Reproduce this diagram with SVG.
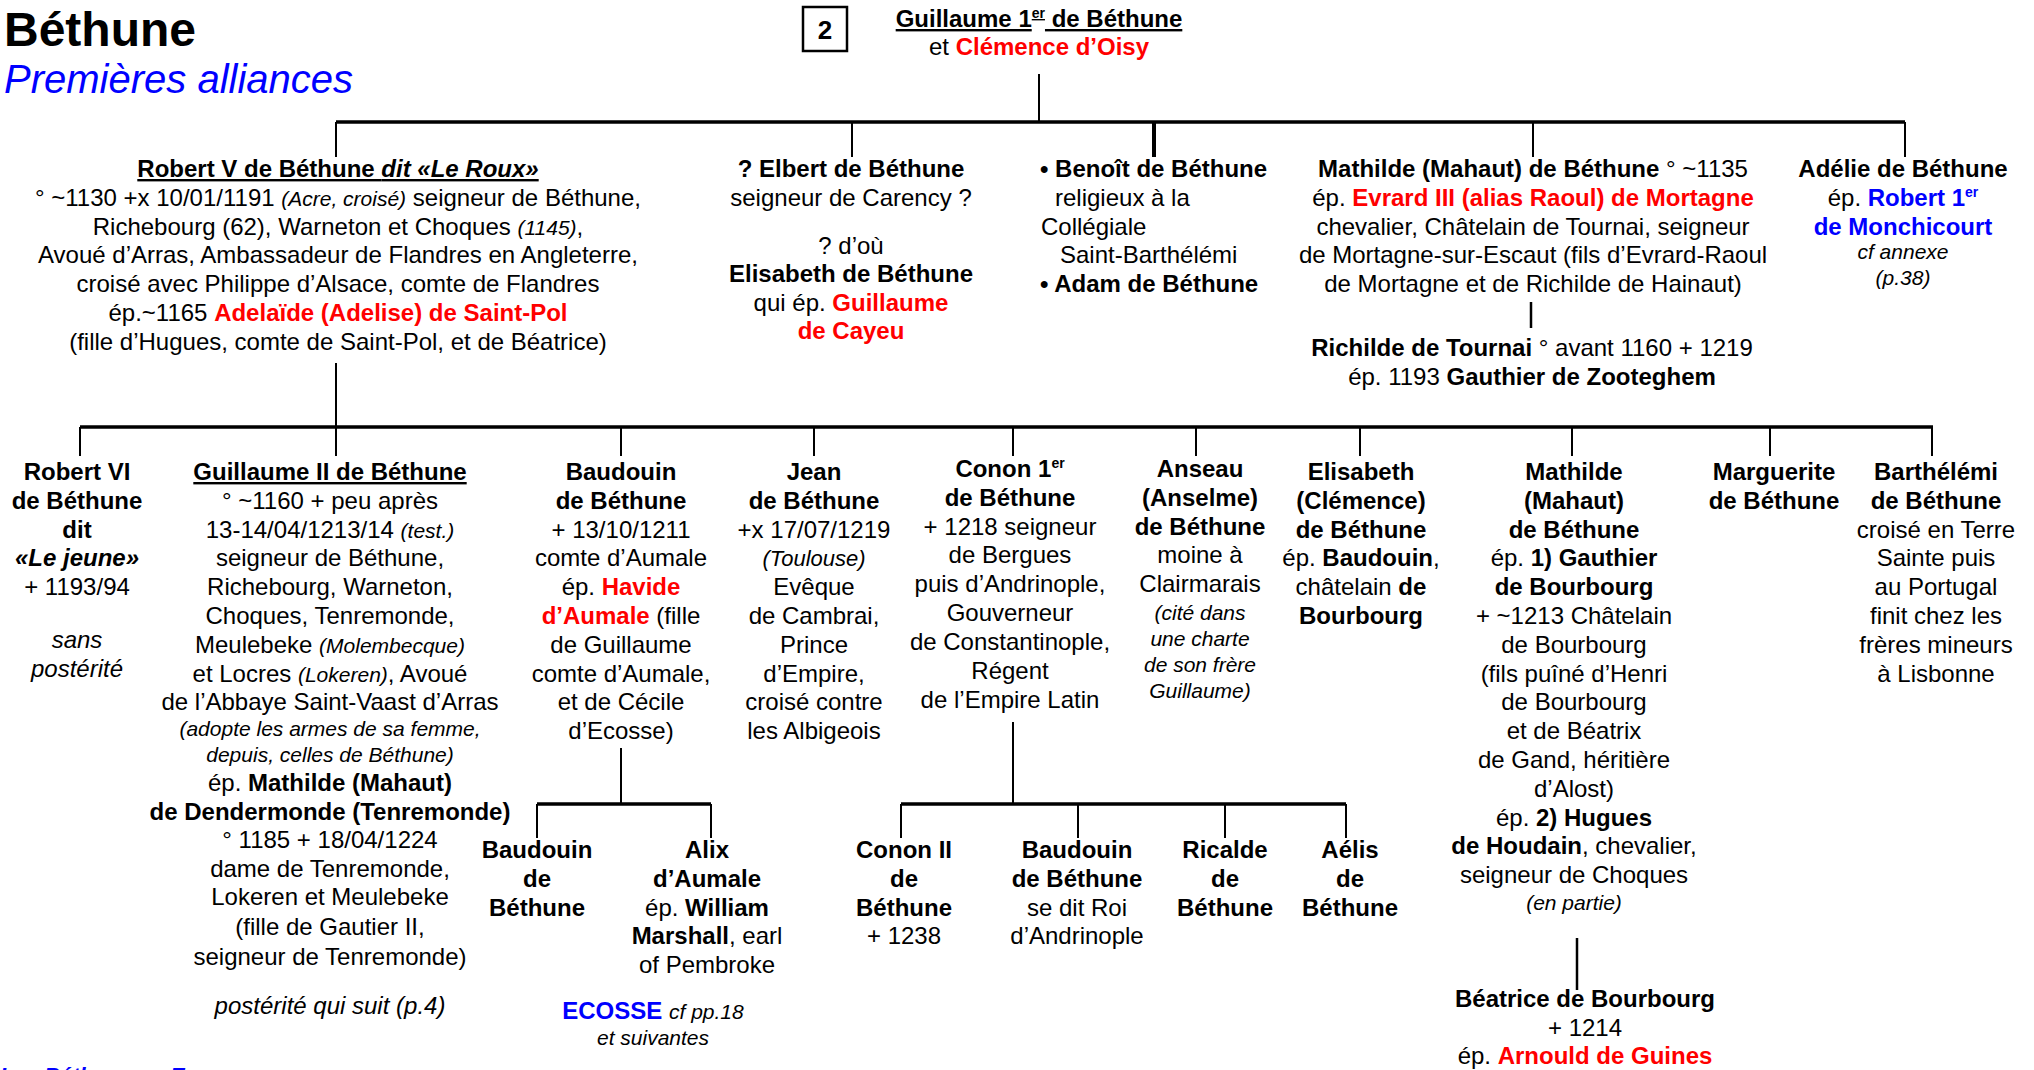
<svg xmlns="http://www.w3.org/2000/svg" width="2034" height="1070" viewBox="0 0 2034 1070">
<style>
text{font-family:"Liberation Sans",Arial,sans-serif;font-size:24px;fill:#000}
.c{text-anchor:middle}
.b{font-weight:bold}
.i{font-style:italic}
.r{fill:#FF0000}
.bl{fill:#0000FF}
.s{font-size:21px}
.u{text-decoration:underline}
.sup{font-size:14px}
line{stroke:#000;stroke-width:2}
line.bar{stroke-width:3.5}
</style>
<rect width="2034" height="1070" fill="#fff"/>
<g id="title">
<text x="4" y="46" class="b" style="font-size:48px">Béthune</text>
<text x="4" y="93" class="i bl" style="font-size:40px">Premières alliances</text>
</g>
<g id="pagebox">
<rect x="803" y="7" width="44" height="44" fill="none" stroke="#000" stroke-width="2.5"/>
<text x="825" y="39" class="c b" style="font-size:26px">2</text>
</g>
<g id="connectors">
<line x1="1039" y1="74" x2="1039" y2="122"/>
<line class="bar" x1="336" y1="122" x2="1905" y2="122"/>
<line x1="336" y1="122" x2="336" y2="157"/>
<line x1="852" y1="122" x2="852" y2="157"/>
<line x1="1154" y1="122" x2="1154" y2="157" style="stroke-width:4"/>
<line x1="1533" y1="122" x2="1533" y2="157"/>
<line x1="1905" y1="122" x2="1905" y2="157"/>
<line x1="1531" y1="302" x2="1531" y2="328" style="stroke-width:2.5"/>
<line x1="336" y1="363" x2="336" y2="427"/>
<line class="bar" x1="80" y1="427" x2="1933" y2="427"/>
<line x1="80" y1="427" x2="80" y2="456"/>
<line x1="336" y1="427" x2="336" y2="456"/>
<line x1="621" y1="427" x2="621" y2="456"/>
<line x1="814" y1="427" x2="814" y2="456"/>
<line x1="1013" y1="427" x2="1013" y2="456"/>
<line x1="1196" y1="427" x2="1196" y2="456"/>
<line x1="1360" y1="427" x2="1360" y2="456"/>
<line x1="1572" y1="427" x2="1572" y2="456"/>
<line x1="1770" y1="427" x2="1770" y2="456"/>
<line x1="1932" y1="427" x2="1932" y2="456"/>
<line x1="621" y1="748" x2="621" y2="804"/>
<line class="bar" x1="537" y1="804" x2="711" y2="804"/>
<line x1="537" y1="804" x2="537" y2="838"/>
<line x1="711" y1="804" x2="711" y2="838"/>
<line x1="1013" y1="722" x2="1013" y2="804"/>
<line class="bar" x1="901" y1="804" x2="1346" y2="804"/>
<line x1="901" y1="804" x2="901" y2="838"/>
<line x1="1078" y1="804" x2="1078" y2="838"/>
<line x1="1225" y1="804" x2="1225" y2="838"/>
<line x1="1346" y1="804" x2="1346" y2="838"/>
<line x1="1577" y1="938" x2="1577" y2="990" style="stroke-width:2.5"/>
</g>
<g id="guillaume1">
<text x="1039" y="27" class="c b u">Guillaume 1<tspan class="sup" dy="-9">er</tspan><tspan dy="9"> de Béthune</tspan></text>
<text x="1039" y="55" class="c">et <tspan class="b r">Clémence d’Oisy</tspan></text>
</g>
<g id="robert5">
<text x="338" y="177" class="c b u">Robert V de Béthune <tspan class="i">dit «Le Roux»</tspan></text>
<text x="338" y="205.8" class="c">° ~1130 +x 10/01/1191 <tspan class="i s">(Acre, croisé)</tspan> seigneur de Béthune,</text>
<text x="338" y="234.6" class="c">Richebourg (62), Warneton et Choques <tspan class="i s">(1145)</tspan>,</text>
<text x="338" y="263.4" class="c">Avoué d’Arras, Ambassadeur de Flandres en Angleterre,</text>
<text x="338" y="292.2" class="c">croisé avec Philippe d’Alsace, comte de Flandres</text>
<text x="338" y="321" class="c">ép.~1165 <tspan class="b r">Adelaïde (Adelise) de Saint-Pol</tspan></text>
<text x="338" y="349.8" class="c">(fille d’Hugues, comte de Saint-Pol, et de Béatrice)</text>
</g>
<g id="elbert">
<text x="851" y="177" class="c b">? Elbert de Béthune</text>
<text x="851" y="205.8" class="c">seigneur de Carency ?</text>
<text x="851" y="253.6" class="c">? d’où</text>
<text x="851" y="282" class="c b">Elisabeth de Béthune</text>
<text x="851" y="310.6" class="c">qui ép. <tspan class="b r">Guillaume</tspan></text>
<text x="851" y="339" class="c b r">de Cayeu</text>
</g>
<g id="benoit">
<text x="1040" y="177" class="b">• Benoît de Béthune</text>
<text x="1055" y="205.8">religieux à la</text>
<text x="1041" y="234.6">Collégiale</text>
<text x="1060" y="263.4">Saint-Barthélémi</text>
<text x="1040" y="292.2" class="b">• Adam de Béthune</text>
</g>
<g id="mathilde1">
<text x="1533" y="177" class="c"><tspan class="b">Mathilde (Mahaut) de Béthune</tspan> ° ~1135</text>
<text x="1533" y="205.8" class="c">ép. <tspan class="b r">Evrard III (alias  Raoul) de Mortagne</tspan></text>
<text x="1533" y="234.6" class="c">chevalier, Châtelain de Tournai, seigneur</text>
<text x="1533" y="263.4" class="c">de Mortagne-sur-Escaut (fils d’Evrard-Raoul</text>
<text x="1533" y="292.2" class="c">de Mortagne et de Richilde de Hainaut)</text>
</g>
<g id="richilde">
<text x="1532" y="356" class="c"><tspan class="b">Richilde de Tournai</tspan> ° avant 1160 + 1219</text>
<text x="1532" y="384.6" class="c">ép. 1193 <tspan class="b">Gauthier de Zooteghem</tspan></text>
</g>
<g id="adelie">
<text x="1903" y="177" class="c b">Adélie de Béthune</text>
<text x="1903" y="205.8" class="c">ép. <tspan class="b bl">Robert 1<tspan class="sup" dy="-9">er</tspan></tspan></text>
<text x="1903" y="234.6" class="c b bl">de Monchicourt</text>
<text x="1903" y="259" class="c i s">cf annexe</text>
<text x="1903" y="285" class="c i s">(p.38)</text>
</g>
<g id="robert6">
<text x="77" y="480" class="c b">Robert VI</text>
<text x="77" y="508.8" class="c b">de Béthune</text>
<text x="77" y="537.6" class="c b">dit</text>
<text x="77" y="566.4" class="c b i">«Le jeune»</text>
<text x="77" y="595.2" class="c">+ 1193/94</text>
<text x="77" y="648" class="c i">sans</text>
<text x="77" y="676.5" class="c i">postérité</text>
</g>
<g id="guillaume2">
<text x="330" y="480" class="c b u">Guillaume II de Béthune</text>
<text x="330" y="508.8" class="c">° ~1160 + peu après</text>
<text x="330" y="537.6" class="c">13-14/04/1213/14 <tspan class="i s">(test.)</tspan></text>
<text x="330" y="566.4" class="c">seigneur de Béthune,</text>
<text x="330" y="595.2" class="c">Richebourg, Warneton,</text>
<text x="330" y="624" class="c">Choques, Tenremonde,</text>
<text x="330" y="652.8" class="c">Meulebeke <tspan class="i s">(Molembecque)</tspan></text>
<text x="330" y="681.6" class="c">et Locres <tspan class="i s">(Lokeren)</tspan>, Avoué</text>
<text x="330" y="710.4" class="c">de l’Abbaye Saint-Vaast d’Arras</text>
<text x="330" y="736" class="c i s">(adopte les armes de sa femme,</text>
<text x="330" y="762" class="c i s">depuis, celles de Béthune)</text>
<text x="330" y="791" class="c">ép. <tspan class="b">Mathilde (Mahaut)</tspan></text>
<text x="330" y="819.5" class="c b">de Dendermonde (Tenremonde)</text>
<text x="330" y="848" class="c">° 1185 + 18/04/1224</text>
<text x="330" y="876.5" class="c">dame de Tenremonde,</text>
<text x="330" y="905" class="c">Lokeren et Meulebeke</text>
<text x="330" y="935" class="c">(fille de Gautier II,</text>
<text x="330" y="964.5" class="c">seigneur de Tenremonde)</text>
<text x="330" y="1014" class="c i">postérité qui suit (p.4)</text>
</g>
<g id="baudouin">
<text x="621" y="480" class="c b">Baudouin</text>
<text x="621" y="508.8" class="c b">de Béthune</text>
<text x="621" y="537.6" class="c">+ 13/10/1211</text>
<text x="621" y="566.4" class="c">comte d’Aumale</text>
<text x="621" y="595.2" class="c">ép. <tspan class="b r">Havide</tspan></text>
<text x="621" y="624" class="c"><tspan class="b r">d’Aumale</tspan> (fille</text>
<text x="621" y="652.8" class="c">de Guillaume</text>
<text x="621" y="681.6" class="c">comte d’Aumale,</text>
<text x="621" y="710.4" class="c">et de Cécile</text>
<text x="621" y="739.2" class="c">d’Ecosse)</text>
</g>
<g id="jean">
<text x="814" y="480" class="c b">Jean</text>
<text x="814" y="508.8" class="c b">de Béthune</text>
<text x="814" y="537.6" class="c">+x 17/07/1219</text>
<text x="814" y="566.4" class="c i" style="font-size:22px">(Toulouse)</text>
<text x="814" y="595.2" class="c">Evêque</text>
<text x="814" y="624" class="c">de Cambrai,</text>
<text x="814" y="652.8" class="c">Prince</text>
<text x="814" y="681.6" class="c">d’Empire,</text>
<text x="814" y="710.4" class="c">croisé contre</text>
<text x="814" y="739.2" class="c">les Albigeois</text>
</g>
<g id="conon1">
<text x="1010" y="477" class="c b">Conon 1<tspan class="sup" dy="-9">er</tspan></text>
<text x="1010" y="505.8" class="c b">de Béthune</text>
<text x="1010" y="534.6" class="c">+ 1218 seigneur</text>
<text x="1010" y="563.4" class="c">de Bergues</text>
<text x="1010" y="592.2" class="c">puis d’Andrinople,</text>
<text x="1010" y="621" class="c">Gouverneur</text>
<text x="1010" y="649.8" class="c">de Constantinople,</text>
<text x="1010" y="678.6" class="c">Régent</text>
<text x="1010" y="708" class="c">de l’Empire Latin</text>
</g>
<g id="anseau">
<text x="1200" y="477" class="c b">Anseau</text>
<text x="1200" y="505.8" class="c b">(Anselme)</text>
<text x="1200" y="534.6" class="c b">de Béthune</text>
<text x="1200" y="563.4" class="c">moine à</text>
<text x="1200" y="592.2" class="c">Clairmarais</text>
<text x="1200" y="620" class="c i s">(cité dans</text>
<text x="1200" y="646" class="c i s">une charte</text>
<text x="1200" y="672" class="c i s">de son frère</text>
<text x="1200" y="698" class="c i s">Guillaume)</text>
</g>
<g id="elisabeth">
<text x="1361" y="480" class="c b">Elisabeth</text>
<text x="1361" y="508.8" class="c b">(Clémence)</text>
<text x="1361" y="537.6" class="c b">de Béthune</text>
<text x="1361" y="566.4" class="c">ép. <tspan class="b">Baudouin</tspan>,</text>
<text x="1361" y="595.2" class="c">châtelain <tspan class="b">de</tspan></text>
<text x="1361" y="624" class="c b">Bourbourg</text>
</g>
<g id="mathilde2">
<text x="1574" y="480" class="c b">Mathilde</text>
<text x="1574" y="508.8" class="c b">(Mahaut)</text>
<text x="1574" y="537.6" class="c b">de Béthune</text>
<text x="1574" y="566.4" class="c">ép. <tspan class="b">1) Gauthier</tspan></text>
<text x="1574" y="595.2" class="c b">de Bourbourg</text>
<text x="1574" y="624" class="c">+ ~1213 Châtelain</text>
<text x="1574" y="652.8" class="c">de Bourbourg</text>
<text x="1574" y="681.6" class="c">(fils puîné d’Henri</text>
<text x="1574" y="710.4" class="c">de Bourbourg</text>
<text x="1574" y="739.2" class="c">et de Béatrix</text>
<text x="1574" y="768" class="c">de Gand, héritière</text>
<text x="1574" y="796.8" class="c">d’Alost)</text>
<text x="1574" y="825.6" class="c">ép. <tspan class="b">2) Hugues</tspan></text>
<text x="1574" y="854.4" class="c"><tspan class="b">de Houdain</tspan>, chevalier,</text>
<text x="1574" y="883.2" class="c">seigneur de Choques</text>
<text x="1574" y="910" class="c i s">(en partie)</text>
</g>
<g id="marguerite">
<text x="1774" y="480" class="c b">Marguerite</text>
<text x="1774" y="508.8" class="c b">de Béthune</text>
</g>
<g id="barthelemi">
<text x="1936" y="480" class="c b">Barthélémi</text>
<text x="1936" y="508.8" class="c b">de Béthune</text>
<text x="1936" y="537.6" class="c">croisé en Terre</text>
<text x="1936" y="566.4" class="c">Sainte puis</text>
<text x="1936" y="595.2" class="c">au Portugal</text>
<text x="1936" y="624" class="c">finit chez les</text>
<text x="1936" y="652.8" class="c">frères mineurs</text>
<text x="1936" y="681.6" class="c">à Lisbonne</text>
</g>
<g id="baudouin2">
<text x="537" y="858" class="c b">Baudouin</text>
<text x="537" y="886.8" class="c b">de</text>
<text x="537" y="915.6" class="c b">Béthune</text>
</g>
<g id="alix">
<text x="707" y="858" class="c b">Alix</text>
<text x="707" y="886.8" class="c b">d’Aumale</text>
<text x="707" y="915.6" class="c">ép. <tspan class="b">William</tspan></text>
<text x="707" y="944.4" class="c"><tspan class="b">Marshall</tspan>, earl</text>
<text x="707" y="973.2" class="c">of Pembroke</text>
</g>
<g id="ecosse">
<text x="653" y="1019" class="c"><tspan class="b bl">ECOSSE</tspan> <tspan class="i s">cf pp.18</tspan></text>
<text x="653" y="1045" class="c i s">et suivantes</text>
</g>
<g id="conon2">
<text x="904" y="858" class="c b">Conon II</text>
<text x="904" y="886.8" class="c b">de</text>
<text x="904" y="915.6" class="c b">Béthune</text>
<text x="904" y="944.4" class="c">+ 1238</text>
</g>
<g id="baudouin3">
<text x="1077" y="858" class="c b">Baudouin</text>
<text x="1077" y="886.8" class="c b">de Béthune</text>
<text x="1077" y="915.6" class="c">se dit Roi</text>
<text x="1077" y="944.4" class="c">d’Andrinople</text>
</g>
<g id="ricalde">
<text x="1225" y="858" class="c b">Ricalde</text>
<text x="1225" y="886.8" class="c b">de</text>
<text x="1225" y="915.6" class="c b">Béthune</text>
</g>
<g id="aelis">
<text x="1350" y="858" class="c b">Aélis</text>
<text x="1350" y="886.8" class="c b">de</text>
<text x="1350" y="915.6" class="c b">Béthune</text>
</g>
<g id="beatrice">
<text x="1585" y="1007" class="c b">Béatrice de Bourbourg</text>
<text x="1585" y="1035.5" class="c">+ 1214</text>
<text x="1585" y="1064" class="c">ép. <tspan class="b r">Arnould de Guines</tspan></text>
</g>
<g id="footer">
<text x="0" y="1083" class="b i bl" style="font-size:22px">Les Béthune en Ecosse :</text>
</g>
</svg>
